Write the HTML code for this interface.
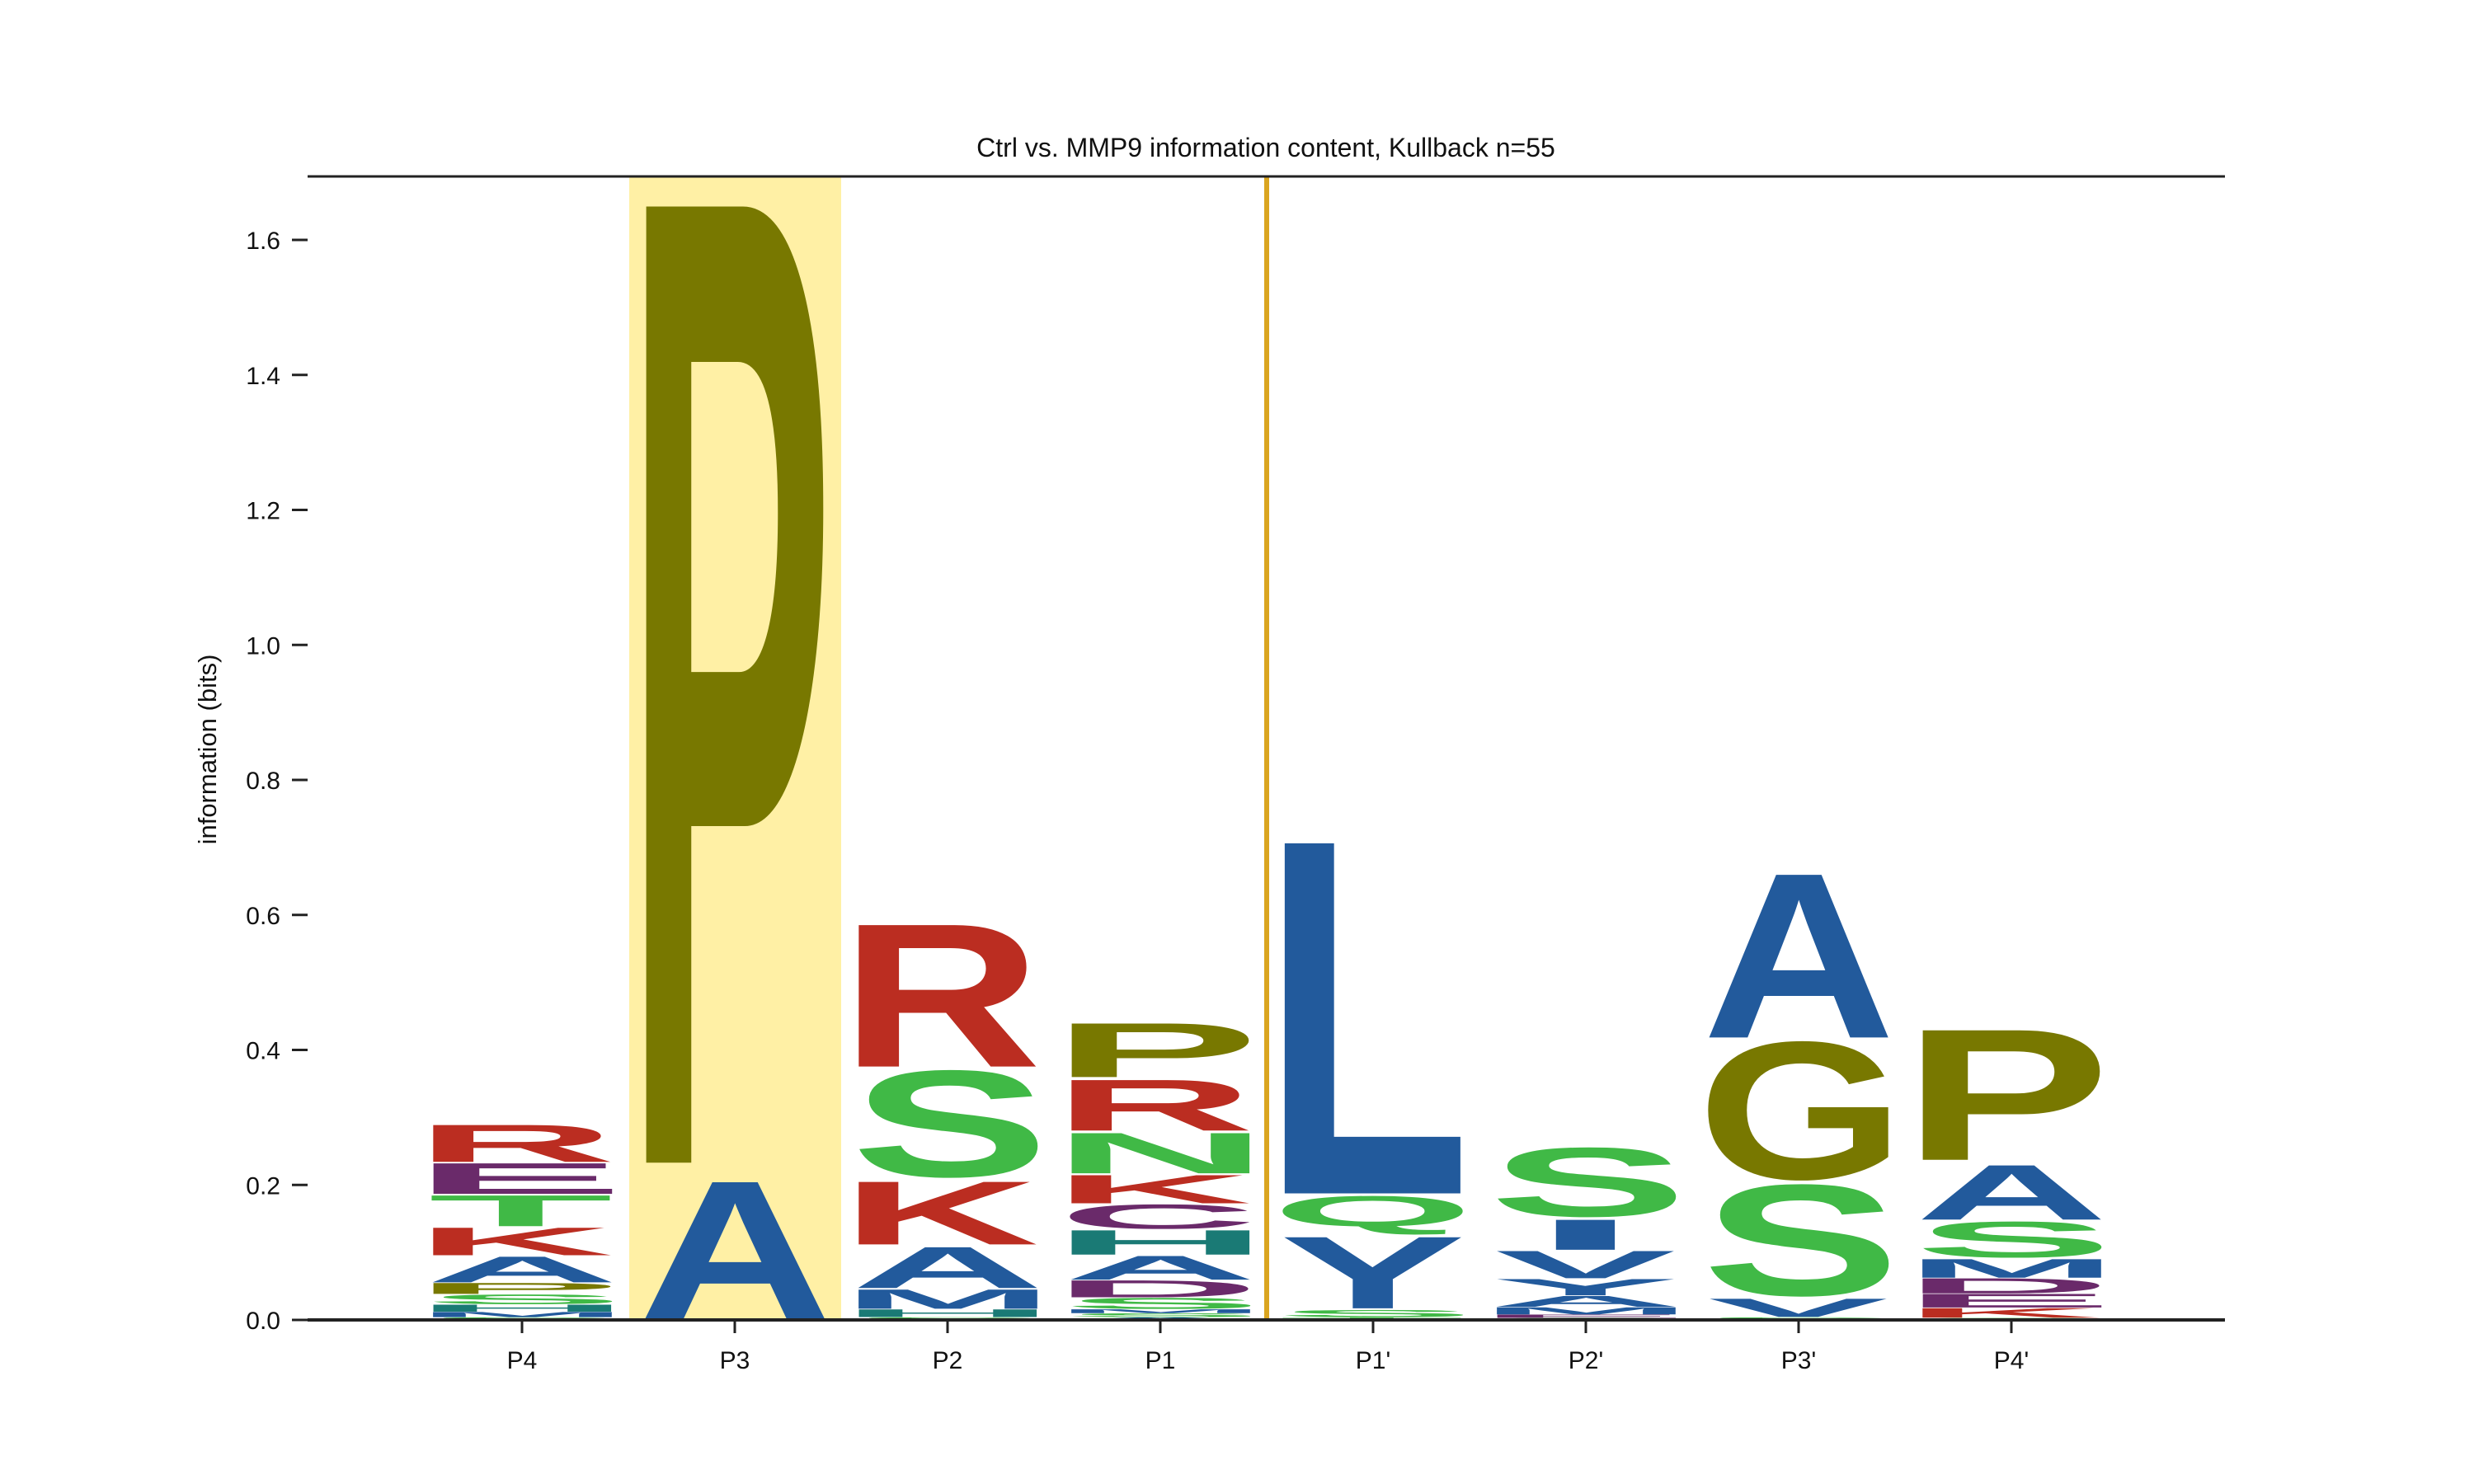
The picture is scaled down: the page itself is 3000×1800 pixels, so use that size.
<!DOCTYPE html>
<html><head><meta charset="utf-8"><style>
html,body{margin:0;padding:0;background:#fff;}
svg{display:block;font-family:"Liberation Sans",Arial,sans-serif;}
</style></head><body>
<svg id="chart" width="3000" height="1800" viewBox="0 0 3000 1800" xmlns="http://www.w3.org/2000/svg">
<rect x="763" y="214" width="257" height="1387" fill="#FFF0A5"/>
<line x1="1536" y1="214" x2="1536" y2="1601" stroke="#DAA520" stroke-width="6"/>
<line x1="373" y1="214" x2="2698" y2="214" stroke="#222" stroke-width="3"/>
<g id="letters"></g>
<line x1="373" y1="1601" x2="2698" y2="1601" stroke="#222" stroke-width="4"/>
<g id="yticks"></g>
<g id="xticks"></g>
<text x="1535" y="190" font-size="32" text-anchor="middle" fill="#111">Ctrl vs. MMP9 information content, Kullback n=55</text>
<text x="0" y="0" font-size="31" text-anchor="middle" fill="#111" transform="translate(262,909) rotate(-90)">information (bits)</text>
</svg>
<script>
const positions = ["P4","P3","P2","P1","P1'","P2'","P3'","P4'"];
// stacks bottom -> top: [letter, bits]
const stack0 = [["S",0.004],["M",0.008],["H",0.011],["S",0.015],["P",0.017],["A",0.040],["K",0.043],["T",0.048],["E",0.047],["R",0.057]];
const stack1 = [["A",0.21],["P",1.446]];
const stack2 = [["S",0.004],["H",0.012],["M",0.030],["A",0.064],["K",0.098],["S",0.165],["R",0.215]];
const stack3 = [["A",0.004],["S",0.006],["M",0.006],["S",0.017],["D",0.026],["A",0.037],["H",0.038],["C",0.038],["K",0.044],["N",0.063],["R",0.078],["P",0.084]];
const stack4 = [["T",0.004],["S",0.011],["Y",0.110],["Q",0.060],["L",0.525]];
const stack5 = [["S",0.003],["E",0.005],["M",0.011],["A",0.017],["Y",0.025],["V",0.042],["I",0.047],["S",0.108]];
const stack6 = [["S",0.004],["V",0.028],["S",0.172],["G",0.212],["A",0.250]];
const stack7 = [["S",0.003],["K",0.015],["E",0.021],["D",0.023],["M",0.029],["S",0.056],["A",0.085],["P",0.200]];
const stacks = [stack0,stack1,stack2,stack3,stack4,stack5,stack6,stack7];
const yTicks = [0,0.2,0.4,0.6,0.8,1.0,1.2,1.4,1.6];

const colors = {R:"#BB2D21",K:"#BB2D21",E:"#6A2A6A",D:"#6A2A6A",C:"#6A2A6A",
  S:"#40B946",T:"#40B946",N:"#40B946",Q:"#40B946",P:"#787800",G:"#787800",
  A:"#225A9C",L:"#225A9C",V:"#225A9C",Y:"#225A9C",M:"#225A9C",I:"#225A9C",F:"#225A9C",W:"#225A9C",H:"#1A7A75"};
const NS="http://www.w3.org/2000/svg";
const y0=1601, ppb=818.75;
function yScale(v){return y0 - v*ppb;}
function xScale(i){return 633 + i*258;}
const W=220;
const cv=document.createElement('canvas');
const ctx=cv.getContext('2d');
ctx.font='bold 100px "Liberation Sans", Arial, sans-serif';
const metricCache={};
function ink(ch){
  if(!metricCache[ch]){
    const m=ctx.measureText(ch);
    metricCache[ch]={l:m.actualBoundingBoxLeft,r:m.actualBoundingBoxRight,a:m.actualBoundingBoxAscent,d:m.actualBoundingBoxDescent};
  }
  return metricCache[ch];
}
const lg=document.getElementById('letters');
stacks.forEach((st,i)=>{
  let base=0;
  st.forEach(([ch,v])=>{
    const yb=yScale(base), yt=yScale(base+v);
    const full=yb-yt;
    const pad=Math.min(full*0.02,2);
    const h=full-2*pad;
    const m=ink(ch);
    const iw=m.l+m.r, ih=m.a+m.d;
    const gw = ch==="I" ? W*0.36 : W;
    const t=document.createElementNS(NS,'text');
    
    
    t.textContent=ch;
    t.setAttribute('x',0);t.setAttribute('y',0);
    t.setAttribute('font-size',100);
    t.setAttribute('font-weight','bold');
    t.setAttribute('fill',colors[ch]||"#333");
    t.setAttribute('transform','translate('+(xScale(i)-gw/2)+','+(yb-pad)+') scale('+(gw/iw)+','+(h/ih)+') translate('+m.l+','+(-m.d)+')');
    lg.appendChild(t);
    base+=v;
  });
});
const yg=document.getElementById('yticks');
yTicks.forEach(v=>{
  const y=yScale(v);
  const l=document.createElementNS(NS,'line');
  
  
  l.setAttribute('x1',354);l.setAttribute('x2',373);l.setAttribute('y1',y);l.setAttribute('y2',y);
  l.setAttribute('stroke','#222');l.setAttribute('stroke-width',3);
  yg.appendChild(l);
  const t=document.createElementNS(NS,'text');
  
  
  t.setAttribute('x',340);t.setAttribute('y',y+11);
  t.setAttribute('text-anchor','end');t.setAttribute('font-size',30);t.setAttribute('fill','#111');
  t.textContent=v.toFixed(1);
  yg.appendChild(t);
});
const xg=document.getElementById('xticks');
positions.forEach((p,i)=>{
  const x=xScale(i);
  const l=document.createElementNS(NS,'line');
  
  
  l.setAttribute('x1',x);l.setAttribute('x2',x);l.setAttribute('y1',1601);l.setAttribute('y2',1617);
  l.setAttribute('stroke','#222');l.setAttribute('stroke-width',3);
  xg.appendChild(l);
  const t=document.createElementNS(NS,'text');
  
  
  t.setAttribute('x',x);t.setAttribute('y',1660);
  t.setAttribute('text-anchor','middle');t.setAttribute('font-size',30);t.setAttribute('fill','#111');
  t.textContent=p;
  xg.appendChild(t);
});
</script>
</body></html>
